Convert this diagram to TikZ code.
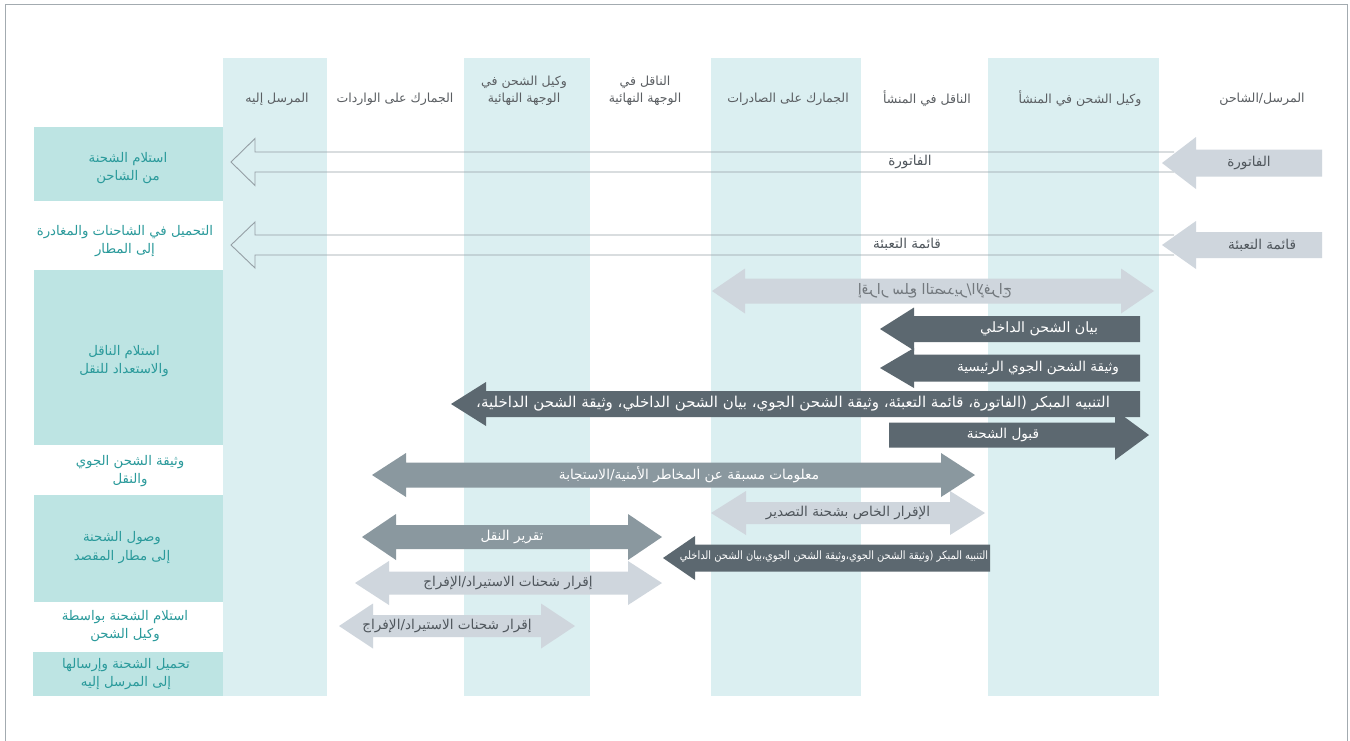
\documentclass[tikz,border=0pt]{standalone}
\usepackage{fontspec}
\usepackage{graphicx}
\TeXXeTstate=1
\newfontfamily\arabicfont[Script=Arabic]{DejaVu Sans}
\newcommand\AR[1]{{\arabicfont\beginR #1\endR}}
\definecolor{colbg}{HTML}{DBEFF1}
\definecolor{rowbg}{HTML}{BDE4E3}
\definecolor{rowtxt}{HTML}{2A9A9B}
\definecolor{lightarr}{HTML}{CFD6DD}
\definecolor{midarr}{HTML}{8A989F}
\definecolor{darkarr}{HTML}{5C6870}
\definecolor{outl}{HTML}{959FA5}
\definecolor{hdtxt}{HTML}{5A5E62}
\definecolor{lbltxt}{HTML}{4F565C}
\definecolor{framec}{HTML}{A3ABB0}
% double arrow: style, x1, x2, yc, body half, head half, head length
\newcommand\DArrowShape[7]{\fill[#1] (#2,#4) -- ({#2+#7},{#4-#6}) -- ({#2+#7},{#4-#5}) -- ({#3-#7},{#4-#5}) -- ({#3-#7},{#4-#6}) -- (#3,#4) -- ({#3-#7},{#4+#6}) -- ({#3-#7},{#4+#5}) -- ({#2+#7},{#4+#5}) -- ({#2+#7},{#4+#6}) -- cycle;}
% left arrow: tip at x1
\newcommand\LArrowShape[7]{\fill[#1] (#2,#4) -- ({#2+#7},{#4-#6}) -- ({#2+#7},{#4-#5}) -- (#3,{#4-#5}) -- (#3,{#4+#5}) -- ({#2+#7},{#4+#5}) -- ({#2+#7},{#4+#6}) -- cycle;}
% right arrow: tip at x2
\newcommand\RArrowShape[7]{\fill[#1] (#3,#4) -- ({#3-#7},{#4-#6}) -- ({#3-#7},{#4-#5}) -- (#2,{#4-#5}) -- (#2,{#4+#5}) -- ({#3-#7},{#4+#5}) -- ({#3-#7},{#4+#6}) -- cycle;}
\begin{document}
\begin{tikzpicture}[x=1pt,y=-1pt,
  hdr/.style={text=hdtxt,align=center,inner sep=0pt,font=\fontsize{12.5}{17}\selectfont},
  rowlbl/.style={text=rowtxt,align=center,inner sep=0pt,font=\fontsize{13.3}{18.5}\selectfont},
  lbl/.style={text=lbltxt,inner sep=0pt,font=\fontsize{13.6}{15}\selectfont},
  wlbl/.style={text=white,inner sep=0pt,font=\fontsize{13.6}{15}\selectfont},
  outarrow/.style={draw=outl,line width=0.9pt}]
\useasboundingbox (0,0) rectangle (1350,740);
\fill[white] (0,0) rectangle (1350,740);
% frame
\draw[framec,line width=1.2pt] (5.5,742) -- (5.5,4.5) -- (1347.5,4.5) -- (1347.5,742);
% light columns
\fill[colbg] (223,58) rectangle (327,696);
\fill[colbg] (464,58) rectangle (590,696);
\fill[colbg] (711,58) rectangle (861,696);
\fill[colbg] (988,58) rectangle (1159,696);
% teal row boxes
\fill[rowbg] (34,127) rectangle (223,201);
\fill[rowbg] (34,270) rectangle (223,445);
\fill[rowbg] (34,495) rectangle (223,602);
\fill[rowbg] (33,652) rectangle (223,696);
% headers
\node[hdr] (h1) at (277,99) {\AR{المرسل إليه}};
\node[hdr] (h2) at (395,99) {\AR{الجمارك على الواردات}};
\node[hdr] (h3) at (524,90.5) {\AR{وكيل الشحن في}\\\AR{الوجهة النهائية}};
\node[hdr] (h4) at (645,90.5) {\AR{الناقل في}\\\AR{الوجهة النهائية}};
\node[hdr] (h5) at (788,99) {\AR{الجمارك على الصادرات}};
\node[hdr] (h6) at (927,99) {\AR{الناقل في المنشأ}};
\node[hdr] (h7) at (1080,99) {\AR{وكيل الشحن في المنشأ}};
\node[hdr] (h8) at (1262,99) {\AR{المرسل/الشاحن}};
% row labels
\node[rowlbl] (r1) at (128,168) {\AR{استلام الشحنة}\\\AR{من الشاحن}};
\node[rowlbl] (r2) at (125,241) {\AR{التحميل في الشاحنات والمغادرة}\\\AR{إلى المطار}};
\node[rowlbl] (r3) at (124,361) {\AR{استلام الناقل}\\\AR{والاستعداد للنقل}};
\node[rowlbl] (r4) at (130,471) {\AR{وثيقة الشحن الجوي}\\\AR{والنقل}};
\node[rowlbl] (r5) at (122,547.5) {\AR{وصول الشحنة}\\\AR{إلى مطار المقصد}};
\node[rowlbl] (r6) at (125,626) {\AR{استلام الشحنة بواسطة}\\\AR{وكيل الشحن}};
\node[rowlbl] (r7) at (126,674) {\AR{تحميل الشحنة وإرسالها}\\\AR{إلى المرسل إليه}};
% row 1: invoice
\draw[outarrow] (1174,152) -- (255,152) -- (255,138.5) -- (231,162) -- (255,185.5) -- (255,172) -- (1174,172);
\LArrowShape{lightarr}{1162}{1322}{163}{13.5}{26}{34}
\node[lbl] (a1o) at (910,162) {\AR{الفاتورة}};
\node[lbl] (a1s) at (1249,163) {\AR{الفاتورة}};
% row 2: packing list
\draw[outarrow] (1174,235) -- (255,235) -- (255,222) -- (231,245) -- (255,268) -- (255,255) -- (1174,255);
\LArrowShape{lightarr}{1162}{1322}{245}{13}{24}{34}
\node[lbl] (a2o) at (907,244) {\AR{قائمة التعبئة}};
\node[lbl] (a2s) at (1262,245) {\AR{قائمة التعبئة}};
% row 3 arrows
\DArrowShape{lightarr}{712}{1154}{291}{12.5}{22.5}{33}
\node[lbl,text=lbltxt!80,font=\fontsize{14.5}{15}\selectfont] (a3) at (935,291) {\reflectbox{\AR{إقرار سلع التصدير/الإفراج}}};
\LArrowShape{darkarr}{880}{1140}{329}{13}{21.5}{34}
\node[wlbl,font=\fontsize{14.2}{15}\selectfont] (a4) at (1039,329) {\AR{بيان الشحن الداخلي}};
\LArrowShape{darkarr}{880}{1140}{368}{13.5}{20}{34}
\node[wlbl] (a5) at (1038,368) {\AR{وثيقة الشحن الجوي الرئيسية}};
\LArrowShape{darkarr}{451}{1140}{404}{13}{22}{35}
\node[wlbl,font=\fontsize{15}{15}\selectfont] (a6) at (793,404) {\AR{التنبيه المبكر (الفاتورة، قائمة التعبئة، وثيقة الشحن الجوي، بيان الشحن الداخلي، وثيقة الشحن الداخلية،}};
\RArrowShape{darkarr}{889}{1149}{435}{12.5}{25}{34}
\node[wlbl] (a7) at (1003,435) {\AR{قبول الشحنة}};
% row 4/5 arrows
\DArrowShape{lightarr}{711}{985}{513}{11}{22}{35}
\node[lbl] (a9) at (848,513) {\AR{الإقرار الخاص بشحنة التصدير}};
\DArrowShape{midarr}{372}{975}{475}{12.5}{22}{34}
\node[wlbl] (a8) at (689,475) {\AR{معلومات مسبقة عن المخاطر الأمنية/الاستجابة}};
\DArrowShape{midarr}{362}{662}{537}{12}{23}{34}
\node[wlbl] (a10) at (512,537) {\AR{تقرير النقل}};
\LArrowShape{darkarr}{663}{990}{558}{13.5}{22}{32}
\node[wlbl,font=\fontsize{11.5}{12}\selectfont] (a11) at (834,557) {\scalebox{0.86}[1]{\AR{التنبيه المبكر (وثيقة الشحن الجوي،وثيقة الشحن الجوي،بيان الشحن الداخلي}}};
\DArrowShape{lightarr}{355}{662}{583}{11.5}{22}{34}
\node[lbl] (a12) at (508,583) {\AR{إقرار شحنات الاستيراد/الإفراج}};
\DArrowShape{lightarr}{339}{575}{626}{11}{22.5}{34}
\node[lbl] (a13) at (447,626) {\AR{إقرار شحنات الاستيراد/الإفراج}};
\end{tikzpicture}
\end{document}
